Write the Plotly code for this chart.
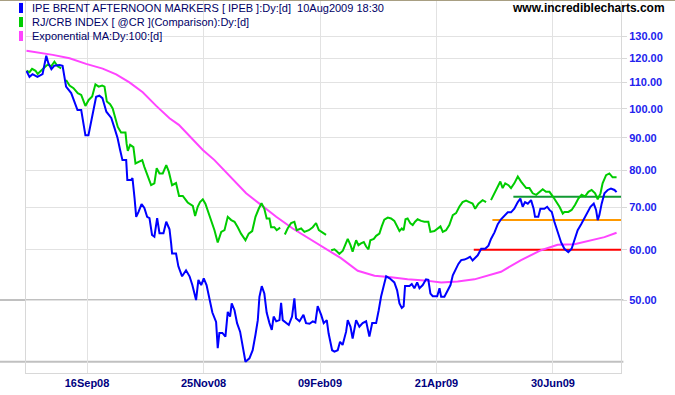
import plotly.graph_objects as go
import math

# ---------------- data (trading-day index, value) ----------------
tick_idx = [26, 76, 126, 176, 226]
tick_lab = ["16Sep08", "25Nov08", "09Feb09", "21Apr09", "30Jun09"]
y_ticks = [50, 60, 70, 80, 90, 100, 110, 120, 130]
y_tick_text = ["50.00", "60.00", "70.00", "80.00", "90.00", "100.00", "110.00", "120.00", "130.00"]

brent_x = [0, 1.3, 2.6, 4.7, 6.9, 8.5, 9.4, 10.7, 11.9, 14.2, 15.5, 16.3, 17.0, 19.2, 20.6, 21.9, 23.5, 24.5, 25.3, 26.6,
           27.8, 28.8, 29.9, 31.3, 32.6, 34.3, 36.4, 37.8, 39.1, 40.2, 41.2, 42.8, 43.3, 44.9, 45.5, 46.4, 47.1, 48.1, 49.4, 50.6,
           51.8, 52.8, 53.9, 54.9, 56.1, 57.1, 58.8, 60.0, 61.4, 62.1, 62.5, 64.2, 65.2, 66.8, 68.5, 70.0, 71.2, 72.8, 73.8, 75.0,
           76.1, 77.3, 78.5, 79.8, 81.4, 82.1, 82.8, 84.1, 85.4, 86.4, 87.4, 88.1, 89.3, 90.4, 91.7, 92.8, 94.0, 95.7, 97.1, 98.3,
           99.3, 100.0, 101.0, 102.1, 103.1, 104.3, 105.3, 106.1, 107.2, 108.6, 109.3, 110.0, 111.5, 112.6, 114.0, 115.0, 115.7, 117.2, 118.9, 120.0,
           121.5, 122.9, 124.0, 125.0, 126.5, 127.6, 128.9, 129.7, 131.2, 132.2, 133.6, 134.6, 135.7, 137.2, 137.9, 139.1, 140.0, 141.5, 142.9, 144.3,
           145.8, 147.2, 148.4, 150.1, 151.2, 152.2, 153.6, 154.4, 155.9, 157.9, 159.1, 160.1, 161.1, 161.9, 162.5, 164.4, 165.4, 166.5, 167.7, 168.7,
           170.1, 171.5, 172.5, 173.4, 174.4, 176.3, 177.3, 178.0, 179.4, 180.6, 182.0, 183.0, 184.4, 185.4, 186.6, 188.0, 189.4, 190.4, 191.5, 193.7,
           195.2, 196.9, 198.3, 199.4, 200.9, 202.3, 203.7, 205.2, 206.6, 208.0, 209.4, 210.9, 212.0, 213.0, 214.0, 215.2, 216.6, 217.7, 218.3, 219.7,
           220.6, 222.3, 223.5, 224.5, 225.5, 226.6, 228.0, 229.5, 230.9, 232.6, 234.0, 235.2, 236.6, 238.1, 239.2, 240.6, 242.1, 243.5, 244.5, 245.2,
           245.9, 246.9, 248.1, 249.5, 250.9, 252.4, 253.3]
brent_y = [114.6, 112.2, 113.3, 112.2, 113.3, 121.1, 117.9, 115.4, 116.8, 117.1, 116.8, 111.7, 108.3, 105.8, 102.6, 99.5, 99.5, 94.9, 90.8, 90.8,
           95.4, 99.5, 104.4, 104.8, 103.9, 98.9, 96.7, 93.2, 89.9, 86.1, 83.0, 83.0, 77.2, 77.2, 77.8, 72.3, 67.6, 68.8, 70.8, 69.8,
           67.6, 67.3, 63.3, 62.9, 67.3, 63.7, 63.7, 66.4, 64.6, 61.4, 59.2, 59.2, 56.5, 54.5, 55.7, 54.5, 52.8, 50.0, 53.8, 52.8,
           54.1, 52.8, 50.0, 47.8, 46.2, 42.0, 44.4, 44.4, 43.8, 47.9, 47.1, 49.4, 48.2, 46.0, 44.6, 42.2, 40.0, 40.5, 41.7, 44.1,
           46.5, 50.6, 52.6, 51.2, 47.8, 46.0, 44.9, 47.1, 46.3, 46.5, 49.5, 46.5, 46.0, 45.7, 47.1, 50.3, 46.8, 46.3, 47.4, 46.0,
           45.9, 46.3, 46.1, 48.9, 47.4, 46.0, 46.5, 44.3, 41.7, 41.5, 41.7, 43.0, 42.5, 44.6, 46.5, 45.4, 43.5, 46.5, 45.4, 46.0,
           46.3, 43.8, 46.0, 46.0, 48.2, 50.6, 53.1, 54.5, 54.1, 53.3, 51.8, 49.4, 48.6, 48.9, 52.6, 52.6, 53.0, 52.2, 53.3, 52.2,
           52.8, 53.9, 53.8, 51.2, 50.7, 50.7, 52.2, 50.6, 50.6, 51.5, 52.8, 54.7, 56.0, 57.0, 57.8, 57.9, 58.2, 58.5, 57.7, 58.8,
           60.2, 60.2, 60.9, 62.4, 63.9, 65.8, 67.0, 67.8, 68.7, 68.7, 69.6, 71.3, 72.2, 70.1, 71.3, 70.9, 71.8, 69.6, 67.6, 67.6,
           69.6, 69.6, 70.1, 69.3, 68.8, 66.4, 64.0, 61.6, 60.2, 59.5, 60.2, 62.1, 64.4, 65.8, 67.0, 68.7, 70.1, 70.9, 69.3, 66.8,
           68.0, 70.9, 73.6, 74.5, 74.9, 74.5, 73.9]

crb_x = [0, 1.3, 2.4, 3.9, 4.8, 6.3, 7.7, 9.1, 10.6, 12.0, 13.4, 14.9, 16.0,
         17.0, 18.5, 20.2, 22.0, 23.5, 24.5, 25.3, 26.7, 28.2, 29.6, 31.0, 32.5, 33.5, 34.5, 35.9, 37.0, 38.2, 39.2, 40.6, 42.5,
         43.0, 43.5, 44.5, 45.9, 46.8, 48.2, 49.7, 50.6, 52.1, 53.5, 54.9, 55.9, 57.1, 58.5, 60.0, 61.1, 62.5, 64.2, 65.5, 67.1,
         69.2, 71.4, 72.4, 73.5, 74.5, 75.7, 76.8, 77.8, 79.3, 80.7, 82.1, 83.6, 85.0, 86.4, 87.9, 89.3, 90.7, 92.1, 94.0, 95.4,
         96.9, 98.3, 99.7, 100.9, 102.1, 103.1, 104.3, 105.0, 106.4, 107.4, 108.9, 110.0,
         110.9, 112.1, 113.6, 115.0, 116.0, 117.9, 119.3, 121.2, 122.9, 124.3, 125.5, 127.2, 128.6, 129.8,
         130.8, 132.2, 133.3, 134.3, 135.8, 136.8, 137.9, 139.1, 140.0, 141.5, 142.5, 143.6, 144.8, 145.8, 146.8, 147.6, 149.1, 150.1,
         151.5, 152.5, 153.6, 155.1, 156.5, 157.9, 159.1, 160.1, 161.1, 161.9, 162.7, 163.6, 164.8, 165.8, 166.8, 167.9, 169.4, 170.8,
         172.5, 173.4, 175.1, 176.5, 177.7, 178.7, 180.1, 181.5, 183.0, 184.4, 185.8, 187.2, 188.7, 190.1, 191.5, 192.6, 194.0, 195.8,
         197.3, 198.4,
         199.4, 200.9, 202.3, 203.4, 204.4, 205.5, 206.9, 208.0, 209.4, 210.9, 212.3, 213.4, 214.5, 215.9, 217.3, 218.8, 220.2, 221.6,
         223.0, 224.5, 225.9, 228.0, 228.8, 230.2, 230.9, 232.6, 234.0, 235.5, 236.9, 238.3, 239.8, 241.2, 242.6, 244.1, 245.2, 246.4,
         247.3, 248.8, 250.2, 251.6, 253.3]
crb_y = [114.7, 114.1, 115.5, 114.7, 113.4, 115.0, 116.1, 117.3, 116.6, 118.5, 116.6, 115.7, None,
         110.9, 108.7, 107.7, 105.8, 105.1, 102.6, 101.0, 103.2, 104.5, 109.2, 108.3, 108.7, 108.3, 102.6, 101.6, 100.1, 96.6, 93.6, 91.7, 91.7,
         88.0, 85.8, 87.7, 87.0, 82.0, 82.5, 83.0, 81.0, 78.2, 75.8, 76.3, 80.6, 79.1, 79.1, 81.5, 79.6, 75.8, 76.4, 72.9, 72.9,
         71.2, 70.3, 67.8, 70.1, 71.3, 72.0, 70.9, 69.3, 67.0, 64.4, 61.6, 64.0, 64.4, 67.6, 66.8, 66.4, 65.1, 63.6, 62.1, 63.6,
         64.2, 67.6, 69.6, 71.0, 69.6, 67.2, 67.2, 65.1, 65.1, 64.4, 65.0, None,
         63.4, 64.8, 66.1, 66.4, 64.4, 64.8, 64.0, 64.4, 65.1, 66.1, 64.4, 63.8, 63.3, None,
         59.9, 60.1, 59.6, 59.1, 59.8, 61.0, 62.4, 61.0, 59.6, 62.1, 61.0, 61.4, 61.7, 60.7, 60.1, 62.1, 62.4, 63.1,
         63.6, 65.3, 66.9, 67.4, 67.2, 66.6, 65.1, 64.2, 64.8, 64.4, 67.0, 67.2, 66.0, 65.6, 66.4, 67.0, 66.6, 66.4,
         66.4, 64.0, 64.2, 64.8, 65.3, 64.0, 64.4, 65.6, 68.0, 68.5, 70.1, 71.3, 71.7, 71.3, 70.9, 69.6, 70.9, 71.8,
         71.3, None,
         71.8, 73.6, 75.4, 76.8, 75.0, 76.3, 75.8, 75.0, 76.3, 78.2, 76.8, 75.8, 75.0, 75.0, 73.6, 73.2, 74.0, 74.7,
         74.0, 74.0, 72.8, 71.0, 70.1, 68.4, 68.8, 68.8, 69.3, 70.6, 72.2, 73.2, 72.8, 74.0, 74.5, 73.6, 72.0, 73.6,
         76.3, 78.6, 79.1, 78.0, 78.0]

ema_x = [0, 11.3, 18.5, 25.6, 32.7, 38.5, 44.2, 49.9, 55.7, 61.4, 65.4, 75.7, 80.7, 87.1, 94.3, 100.0, 107.2, 114.3, 121.5,
         128.6, 135.0, 142.2, 149.4, 156.5, 163.6, 170.8, 178.0, 185.1, 192.3, 203.7, 212.3, 220.9, 228.0, 235.2, 242.4, 248.1, 253.3]
ema_y = [123.3, 121.5, 120.0, 117.6, 115.6, 113.2, 110.0, 106.1, 101.0, 96.6, 94.3, 86.1, 83.0, 78.5, 73.6, 70.9, 67.6, 64.8, 62.4,
         60.2, 58.2, 55.6, 54.6, 54.3, 53.9, 53.7, 53.3, 53.5, 53.9, 55.4, 57.8, 59.9, 61.1, 61.2, 62.1, 62.8, 63.8]

# horizontal levels: (value, start index)
level_vals = [72.7, 66.8, 60.0]
level_start = [209, 200, 192]
level_colors = ["#119933", "#ff9900", "#ff0000"]
grey_levels = [50, 40]
x_end = 255.2

legend_texts = ["IPE BRENT AFTERNOON MARKERS [ IPEB ]:Dy:[d]  10Aug2009 18:30",
                "RJ/CRB INDEX [ @CR ](Comparison):Dy:[d]",
                "Exponential MA:Dy:100:[d]"]
legend_colors = ["#0000ff", "#00cc00", "#ff44ff"]

FONT = "Liberation Sans, Arial, sans-serif"

fig = go.Figure()

for v, s, c in zip(level_vals, level_start, level_colors):
    fig.add_trace(go.Scatter(x=[s, x_end], y=[v, v], mode="lines",
                             line=dict(color=c, width=2), hoverinfo="skip", showlegend=False))

fig.add_trace(go.Scatter(x=ema_x, y=ema_y, mode="lines", line=dict(color="#ff44ff", width=2),
                         showlegend=False))
fig.add_trace(go.Scatter(x=crb_x, y=crb_y, mode="lines", line=dict(color="#00cc00", width=2),
                         connectgaps=False, showlegend=False))
fig.add_trace(go.Scatter(x=brent_x, y=brent_y, mode="lines", line=dict(color="#0000ff", width=2),
                         showlegend=False))

shapes = []
for g in grey_levels:
    shapes.append(dict(type="line", xref="paper", yref="y", x0=-0.045, x1=1.004, y0=g, y1=g,
                       line=dict(color="#c0c0c0", width=2), layer="below"))
# top frame line
shapes.append(dict(type="line", xref="paper", yref="paper", x0=-0.05, x1=1.1, y0=1, y1=1,
                   line=dict(color="#a89f82", width=2)))

annotations = []
row_y = [0.9786, 0.941, 0.9035]
for t, c, ry in zip(legend_texts, legend_colors, row_y):
    annotations.append(dict(text=t, xref="paper", yref="paper", x=0.0067, y=ry,
                            xanchor="left", yanchor="middle", showarrow=False,
                            font=dict(family=FONT, size=11, color="#000066")))
    shapes.append(dict(type="rect", xref="paper", yref="paper", x0=-0.0118, x1=-0.005,
                       y0=ry - 0.0135, y1=ry + 0.0135, fillcolor=c, line=dict(width=0)))
annotations.append(dict(text="<b>www.incrediblecharts.com</b>", xref="paper", yref="paper",
                        x=1.077, y=0.9786, xanchor="right", yanchor="middle", showarrow=False,
                        font=dict(family=FONT, size=12, color="#000000")))

fig.update_layout(
    width=675, height=395,
    margin=dict(l=26, r=54, t=0, b=22),
    paper_bgcolor="white", plot_bgcolor="white",
    shapes=shapes, annotations=annotations,
    xaxis=dict(range=[-0.2, x_end], tickvals=tick_idx, ticktext=tick_lab,
               showgrid=True, gridcolor="#e2e2e2", gridwidth=1, zeroline=False,
               showline=True, linecolor="#d8d8d8", linewidth=1, ticks="",
               tickfont=dict(family=FONT, size=11, color="#000080", weight="bold")),
    yaxis=dict(type="log", side="right", range=[math.log10(38.4), math.log10(148.2)],
               tickvals=y_ticks, ticktext=y_tick_text,
               showgrid=True, gridcolor="#e2e2e2", gridwidth=1, zeroline=False,
               showline=True, mirror=True, linecolor="#d8d8d8", linewidth=1,
               ticks="outside", ticklen=5, tickcolor="#d8d8d8",
               tickfont=dict(family=FONT, size=11, color="#2222ee", weight="bold")),
)

fig.write_html("out.html", config={"displayModeBar": False},
               post_script="document.body.style.margin='0px';")
